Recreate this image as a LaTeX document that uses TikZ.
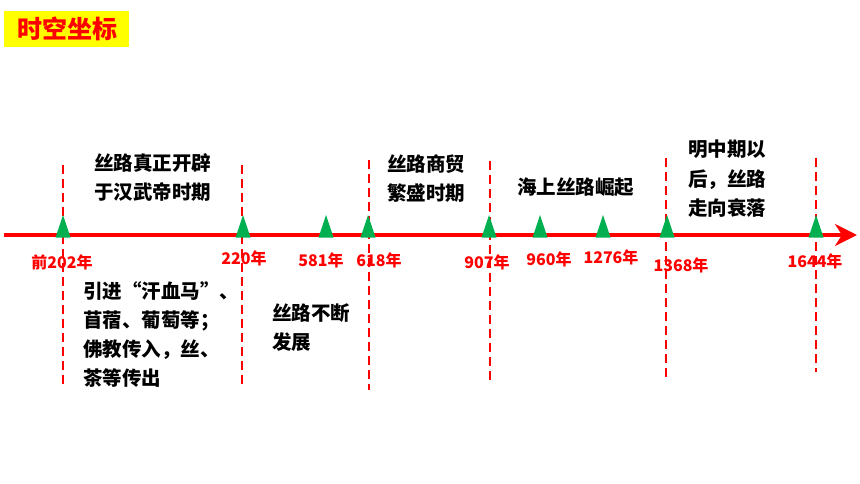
\documentclass[tikz,border=0pt]{standalone}
\usepackage{fontspec}
\newfontfamily\cjk{Noto Sans CJK SC}
\usetikzlibrary{arrows.meta,positioning}

\definecolor{axisred}{HTML}{FF0000}
\definecolor{tickgreen}{HTML}{00B050}
\definecolor{titleyellow}{HTML}{FFFF00}

\begin{document}
\begin{tikzpicture}[x=1pt, y=-1pt,
  every node/.style={inner sep=0pt},
  axisline/.style={axisred, line width=4pt, -{Stealth[length=22pt, width=22pt, inset=7pt]}},
  guide/.style={axisred, line width=2.2pt, dash pattern=on 9pt off 5pt},
  tick/.style={fill=tickgreen},
  yearlabel/.style={text=axisred, font=\cjk\bfseries\fontsize{16}{18}\selectfont},
  eventtext/.style={anchor=north west, align=left, font=\cjk\bfseries\fontsize{19.5}{29.5}\selectfont}]
  \useasboundingbox (0,0) rectangle (860,484);

  % title
  \fill[titleyellow] (4,11) rectangle (129,47);
  \node[text=axisred, font=\cjk\bfseries\fontsize{25}{30}\selectfont] (title) at (67,29) {时空坐标};

  % dashed guides
  \foreach \gx/\gt/\gb [count=\i] in {63/165/385, 242/165/385, 369/160/390, 490/161/381, 666/158/378, 816/158/372} {
    \coordinate (g\i t) at (\gx,\gt);
    \coordinate (g\i b) at (\gx,\gb);
    \draw[guide] (g\i t) -- (g\i b);
  }

  % axis
  \coordinate (axL) at (4,235);
  \coordinate (axR) at (857,235);
  \draw[axisline] (axL) -- (axR);

  % ticks
  \foreach \tx in {63, 243, 326, 368, 489, 540, 603, 667, 816}
    \fill[tick] (\tx-7.5,237.5) -- (\tx,215) -- (\tx+7.5,237.5) -- cycle;

  % years
  \node[yearlabel] (y202) at (62,262) {前202年};
  \node[yearlabel] (y220) at (244,258) {220年};
  \node[yearlabel] (y581) at (321,260) {581年};
  \node[yearlabel] (y618) at (379,260) {618年};
  \node[yearlabel] (y907) at (487,262) {907年};
  \node[yearlabel] (y960) at (549,259) {960年};
  \node[yearlabel] (y1276) at (611,257) {1276年};
  \node[yearlabel] (y1368) at (681,265) {1368年};
  \node[yearlabel] (y1644) at (815,261) {1644年};

  % events above the axis
  \node[eventtext] (han) at (94,153) {丝路真正开辟\\于汉武帝时期};
  \node[eventtext] (tang) at (387,154) {丝路商贸\\繁盛时期};
  \node[eventtext] (sea) at (517,178) {海上丝路崛起};
  \node[eventtext] (ming) at (688,140) {明中期以\\后，丝路\\走向衰落};

  % events below the axis
  \node[eventtext, font=\cjk\bfseries\fontsize{19.5}{29}\selectfont] (trade) at (83,281) {引进“汗血马”、\\苜蓿、葡萄等；\\佛教传入，丝、\\茶等传出};
  \node[eventtext] (grow) at (272,303) {丝路不断\\发展};
\end{tikzpicture}
\end{document}
